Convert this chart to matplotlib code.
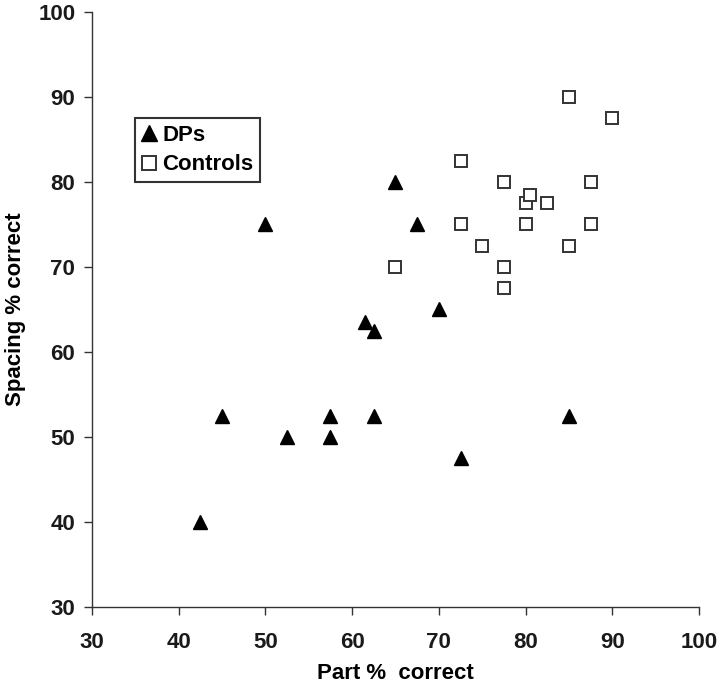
import matplotlib.pyplot as plt

plt.rcParams['font.family'] = ['Liberation Sans', 'DejaVu Sans']
plt.rcParams['font.weight'] = 'bold'

# DPs (filled triangles)
dp_part = [42.5, 45, 50, 52.5, 57.5, 57.5, 61.5, 62.5, 62.5, 65, 67.5, 70, 72.5, 85]
dp_spacing = [40, 52.5, 75, 50, 52.5, 50, 63.5, 62.5, 52.5, 80, 75, 65, 47.5, 52.5]

# Controls (open squares)
ctrl_part = [65, 72.5, 72.5, 75, 77.5, 77.5, 77.5, 80, 80.5, 80, 82.5, 85, 85, 87.5, 87.5, 90]
ctrl_spacing = [70, 82.5, 75, 72.5, 80, 70, 67.5, 77.5, 78.5, 75, 77.5, 90, 72.5, 80, 75, 87.5]

ticks = [30, 40, 50, 60, 70, 80, 90, 100]

fig = plt.figure(figsize=(7.2, 6.89), dpi=100)
ax = fig.add_axes([0.1278, 0.119, 0.843, 0.8636])

ax.plot(dp_part, dp_spacing, linestyle='none', marker='^', markersize=10.5,
        color='black', label='DPs')
ax.plot(ctrl_part, ctrl_spacing, linestyle='none', marker='s', markersize=9,
        markerfacecolor='white', markeredgecolor='#333333', markeredgewidth=1.4,
        label='Controls')

ax.set_xlim(30, 100)
ax.set_ylim(30, 100)
ax.set_xticks(ticks)
ax.set_yticks(ticks)
ax.tick_params(direction='out', length=6, width=1, color='#333333',
               labelsize=16, labelcolor='#1a1a1a')
ax.tick_params(axis='x', pad=12)
ax.tick_params(axis='y', pad=6)
for lbl in ax.get_xticklabels() + ax.get_yticklabels():
    lbl.set_fontweight('bold')

for side in ['top', 'right']:
    ax.spines[side].set_visible(False)
for side in ['left', 'bottom']:
    ax.spines[side].set_color('#333333')
    ax.spines[side].set_linewidth(1)

ax.set_xlabel('Part %  correct', fontsize=16, fontweight='bold', labelpad=7)
ax.set_ylabel('Spacing % correct', fontsize=16, fontweight='bold', labelpad=9)

leg = ax.legend(loc='upper left', bbox_to_anchor=(0.07, 0.822), fontsize=16,
                frameon=True, fancybox=False, edgecolor='black',
                handlelength=0.7, handletextpad=0.25, borderpad=0.3,
                labelspacing=0.4, borderaxespad=0, markerscale=1.15)
leg.get_frame().set_linewidth(1.5)
for t in leg.get_texts():
    t.set_fontweight('bold')

fig.savefig('out.png', dpi=100)
